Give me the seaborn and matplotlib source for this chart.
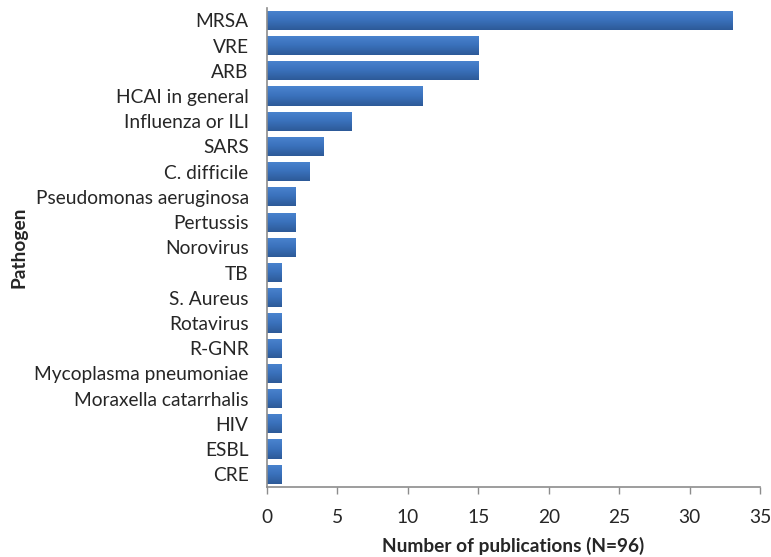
import matplotlib
matplotlib.use("Agg")
import matplotlib.pyplot as plt
import seaborn as sns
import numpy as np
import pandas as pd
from matplotlib.colors import LinearSegmentedColormap

pathogens = ["MRSA", "VRE", "ARB", "HCAI in general", "Influenza or ILI", "SARS",
             "C. difficile", "Pseudomonas aeruginosa", "Pertussis", "Norovirus", "TB",
             "S. Aureus", "Rotavirus", "R-GNR", "Mycoplasma pneumoniae",
             "Moraxella catarrhalis", "HIV", "ESBL", "CRE"]
counts = [33, 15, 15, 11, 6, 4, 3, 2, 2, 2, 1, 1, 1, 1, 1, 1, 1, 1, 1]
xticks = [0, 5, 10, 15, 20, 25, 30, 35]

df = pd.DataFrame({"Pathogen": pathogens, "Count": counts})

sns.set_theme(style="white")
plt.rcParams["font.family"] = ["Lato", "DejaVu Sans"]

FS = 13.8

fig = plt.figure(figsize=(7.71, 5.57), dpi=100)
ax = fig.add_axes([0.346, 0.126, 0.640, 0.860])

sns.barplot(data=df, x="Count", y="Pathogen", orient="h", color="#3a6fb8",
            width=0.76, ax=ax, saturation=1, edgecolor="none")

cmap = LinearSegmentedColormap.from_list("g", ["#4a84cf", "#3a71bb", "#2d5a98"])
grad = np.linspace(0, 1, 64).reshape(-1, 1)
for p in ax.patches:
    x0, y0 = p.get_x(), p.get_y()
    w, h = p.get_width(), p.get_height()
    im = ax.imshow(grad, cmap=cmap, aspect="auto", extent=[x0, x0 + w, y0 + h, y0],
                   origin="upper", zorder=p.get_zorder() + 0.1)
    im.set_clip_path(p)

ax.set_xlim(0, 35)
ax.set_ylim(len(pathogens) - 0.5, -0.5)
ax.set_xticks(xticks)
ax.set_xticklabels([str(t) for t in xticks], fontsize=FS)
ax.tick_params(axis="y", labelsize=FS, length=0, pad=13)
ax.tick_params(axis="x", length=5, width=1, color="#8c8c8c", direction="out", pad=11, bottom=True)

for s in ["top", "right"]:
    ax.spines[s].set_visible(False)
for s in ["left", "bottom"]:
    ax.spines[s].set_color("#8c8c8c")
    ax.spines[s].set_linewidth(1.2)

ax.set_xlabel("Number of publications (N=96)", fontsize=FS, fontweight="bold", labelpad=8)
ax.set_ylabel("Pathogen", fontsize=FS, fontweight="bold")
ax.yaxis.set_label_coords(-0.485, 0.5)

fig.savefig("out.png", dpi=100)
